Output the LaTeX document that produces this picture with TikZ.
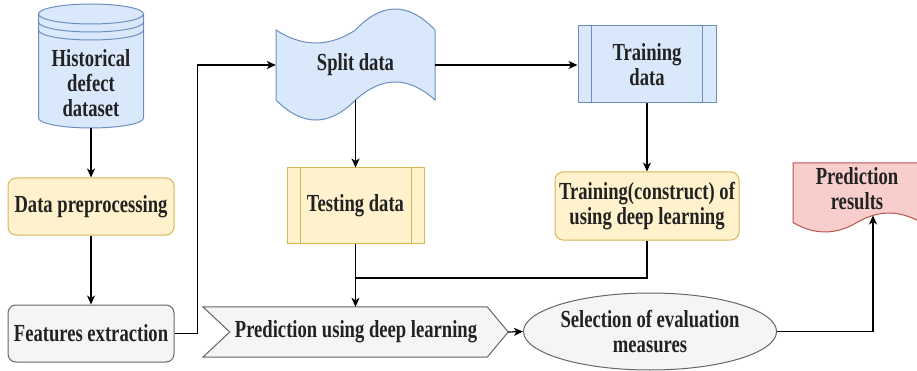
\documentclass[tikz,border=0pt]{standalone}
\usepackage{fontspec}
\setmainfont{Liberation Serif}[FakeStretch=0.76, BoldFont={Liberation Serif Bold}]
\usetikzlibrary{arrows.meta,calc,shapes.geometric}
\definecolor{bfill}{HTML}{DAE8FC}\definecolor{bdraw}{HTML}{6C8EBF}
\definecolor{yfill}{HTML}{FFF2CC}\definecolor{ydraw}{HTML}{D6B656}
\definecolor{gfill}{HTML}{F5F5F5}\definecolor{gdraw}{HTML}{666666}
\definecolor{rfill}{HTML}{F8CECC}\definecolor{rdraw}{HTML}{B85450}
\definecolor{txt}{HTML}{222222}
\tikzset{
  lbl/.style={font=\fontsize{24.5}{25}\selectfont\bfseries, text=txt, align=center, inner sep=0pt},
  frame/.style={line width=1pt},
  ybox/.style={lbl, rectangle, rounded corners=8pt, draw=ydraw, fill=yfill, frame},
  gbox/.style={lbl, rectangle, rounded corners=8pt, draw=gdraw, fill=gfill, frame},
  holder/.style={lbl, rectangle, draw=none},
  plain/.style={line width=1.2pt, black},
  conn/.style={plain, -{Stealth[length=9pt,width=8pt,inset=2.5pt]}}
}
\begin{document}
\begin{tikzpicture}[x=1pt,y=-1pt]
\useasboundingbox (0,0) rectangle (917,371);

% cylinder
\path[fill=bfill, draw=bdraw, frame] (38.5,14) -- (38.5,118)
  arc[start angle=180, end angle=360, x radius=52.5pt, y radius=10pt] -- (143.5,14)
  arc[start angle=0, end angle=180, x radius=52.5pt, y radius=10pt] -- cycle;
\draw[bdraw, frame] (38.5,14) arc[start angle=180, end angle=360, x radius=52.5pt, y radius=10pt];
\draw[bdraw, frame] (38.5,22) arc[start angle=180, end angle=360, x radius=52.5pt, y radius=10pt];
\draw[bdraw, frame] (38.5,30) arc[start angle=180, end angle=360, x radius=52.5pt, y radius=10pt];
\node[holder, minimum width=105pt, minimum height=125pt] (hist) at (91,65.5) {};
\node[lbl] (histtext) at (91,83) {Historical\\defect\\dataset};

\node[ybox, minimum width=166pt, minimum height=57pt] (prep) at (91,206.5) {Data preprocessing};
\node[gbox, minimum width=166pt, minimum height=57pt] (feat) at (91,333.5) {Features extraction};

% split data (tape)
\path[fill=bfill, draw=bdraw, frame] (276,30)
  .. controls (302.5,47.3) and (329,47.3) .. (355.5,30)
  .. controls (382,2) and (408.5,2) .. (435,30)
  -- (435,100)
  .. controls (408.5,76) and (382,76) .. (355.5,100)
  .. controls (329,126.7) and (302.5,126.7) .. (276,100) -- cycle;
\node[holder, minimum width=159pt, minimum height=70pt] (split) at (355.5,65) {Split data};

% training data
\node[lbl, rectangle, draw=bdraw, fill=bfill, frame, minimum width=138pt, minimum height=77pt] (train) at (647,64.5) {Training\\data};
\draw[bdraw, frame] ($(train.north west)+(14pt,0)$) -- ($(train.south west)+(14pt,0)$);
\draw[bdraw, frame] ($(train.north east)+(-14pt,0)$) -- ($(train.south east)+(-14pt,0)$);

% testing data
\node[lbl, rectangle, draw=ydraw, fill=yfill, frame, minimum width=137pt, minimum height=75pt] (test) at (355.5,205.5) {Testing data};
\draw[ydraw, frame] ($(test.north west)+(14pt,0)$) -- ($(test.south west)+(14pt,0)$);
\draw[ydraw, frame] ($(test.north east)+(-13pt,0)$) -- ($(test.south east)+(-13pt,0)$);

\node[ybox, minimum width=184pt, minimum height=68pt] (tc) at (647,206) {Training(construct) of\\using deep learning};

% prediction chevron
\node[holder, minimum width=305pt, minimum height=50pt] (pred) at (355.5,332) {};
\path[fill=gfill, draw=gdraw, frame] (pred.north west) -- ($(pred.north east)+(-21pt,0)$) -- (pred.east)
  -- ($(pred.south east)+(-21pt,0)$) -- (pred.south west) -- ($(pred.west)+(27pt,0)$) -- cycle;
\node[lbl] (predtext) at (356,332) {Prediction using deep learning};

\node[lbl, ellipse, draw=gdraw, fill=gfill, frame, minimum width=216pt, minimum height=77pt] (sel) at (650,331.5) {Selection of evaluation\\measures};

% prediction results (document)
\path[fill=rfill, draw=rdraw, frame] (793,163) -- (921,163) -- (921,222.5)
  .. controls (899.7,209.9) and (878.3,209.9) .. (857,222.5)
  .. controls (835.7,235.1) and (814.3,235.1) .. (793,222.5) -- cycle;
\node[holder, minimum width=128pt, minimum height=52pt] (res) at (857,189) {Prediction\\results};
\coordinate (rtip) at (873,215.5);

% connectors
\coordinate (join) at (355.5,278);
\draw[conn] (hist.south) -- (prep.north);
\draw[conn] (prep.south) -- (feat.north);
\draw[conn] (feat.east) -- ++(23,0) |- (split.west);
\draw[conn] (split.east) -- (split.east -| train.west);
\draw[conn] (split.south) -- (test.north);
\draw[conn] (train.south) -- (tc.north);
\draw[plain] (tc.south) |- (join);
\draw[conn] (test.south) -- (pred.north);
\draw[conn] (pred.east) -- (sel.west);
\draw[conn] (sel.east) -| (rtip);
\end{tikzpicture}
\end{document}
